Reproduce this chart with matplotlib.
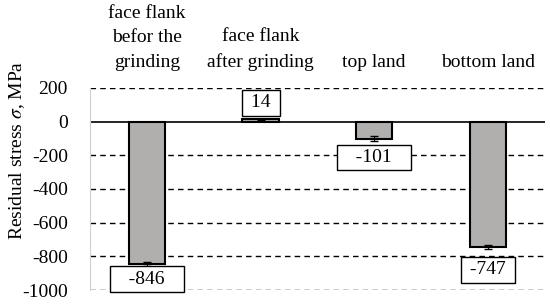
import matplotlib
matplotlib.use("Agg")
import matplotlib.pyplot as plt
import numpy as np

categories = ["face flank\nbefor the\ngrinding", "face flank\nafter grinding", "top land", "bottom land"]
values = [-846, 14, -101, -747]
errors = [10, 4, 15, 12]
label_pos = [-935, 111, -213, -881]
yticks = [200, 0, -200, -400, -600, -800, -1000]

plt.rcParams['font.family'] = ['Liberation Serif', 'DejaVu Serif']
plt.rcParams['mathtext.fontset'] = 'stix'

fig = plt.figure(figsize=(5.5, 3.04), dpi=100)
ax = fig.add_axes([0.164, 0.046, 0.826, 0.665])
x = np.arange(len(categories))
ax.bar(x, values, width=0.32, color='#b1aeae', edgecolor='black', linewidth=1.5, zorder=3)
ax.errorbar(x, values, yerr=errors, fmt='none', ecolor='black', elinewidth=0.8, capsize=3, zorder=4)
box_text = ["   -846   ", " 14 ", "   -101   ", " -747 "]
for xi, txt, lp in zip(x, box_text, label_pos):
    ax.text(xi, lp, txt, ha='center', va='center', fontsize=14,
            bbox=dict(boxstyle='square,pad=0.22', facecolor='white', edgecolor='black', linewidth=1.0), zorder=5)
ax.set_xlim(-0.5, 3.5)
ax.set_ylim(-1000, 200)
ax.set_yticks(yticks)
ax.set_yticklabels([str(t) for t in yticks], fontsize=14)
for t in yticks:
    if t == 0:
        ax.axhline(0, color='black', linewidth=1.2, zorder=2)
    else:
        ax.axhline(t, color='black', linewidth=1.0, linestyle=(0, (4, 3)), zorder=1)
ax.xaxis.tick_top()
ax.set_xticks(x)
ax.set_xticklabels(categories, fontsize=14, linespacing=1.6)
ax.tick_params(axis='x', length=0, pad=12)
ax.tick_params(axis='y', length=0, pad=16)
for s in ['top', 'right', 'bottom']:
    ax.spines[s].set_visible(False)
ax.spines['left'].set_color('#d0d0d0')
ax.set_ylabel(r"Residual stress $\sigma$, MPa", fontsize=14)
ax.yaxis.set_label_coords(-0.14, 0.69)
fig.savefig("out.png", dpi=100)
